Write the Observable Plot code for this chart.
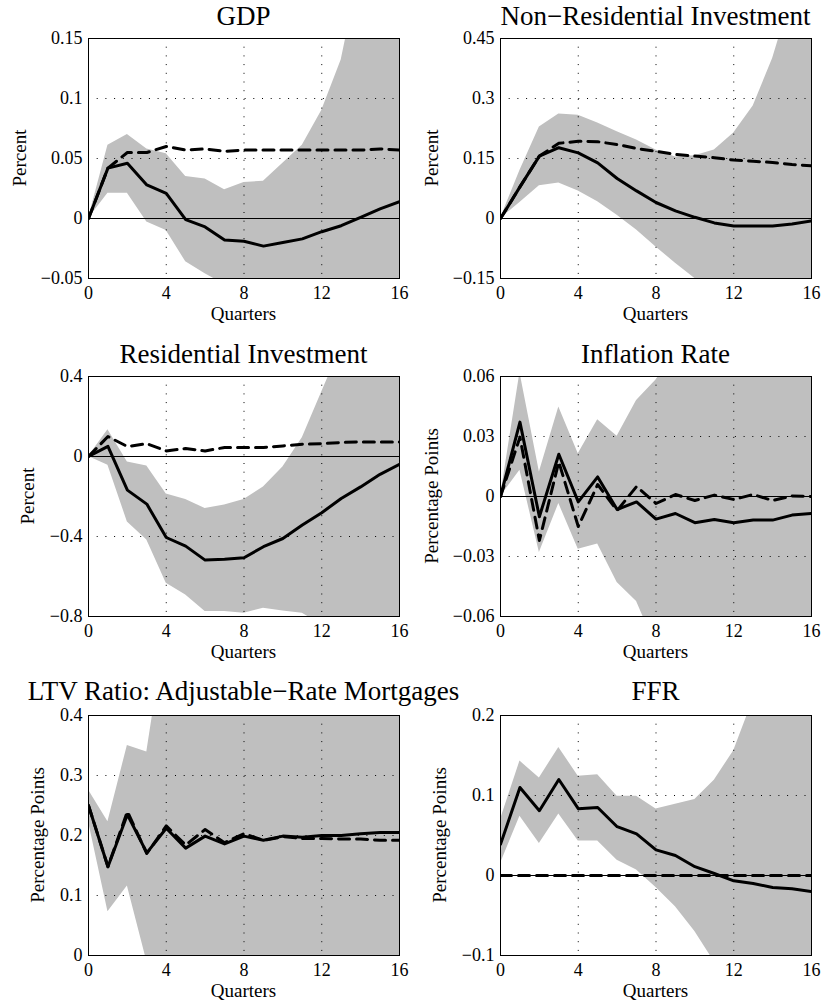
<!DOCTYPE html>
<html>
<head>
<meta charset="utf-8">
<script src="https://cdn.jsdelivr.net/npm/d3@7"></script>
<script src="https://cdn.jsdelivr.net/npm/@observablehq/plot@0.6"></script>
<style>
  body { margin: 0; background: white; }
  #chart { position: relative; width: 825px; height: 1007px; background: white; }
  #chart > svg { position: absolute; }
  #chart svg, #chart svg text { font-family: "Liberation Serif", "Times New Roman", serif !important; }
</style>
</head>
<body>
<div id="chart"></div>
<script>
// quarters after the shock
const quarters = [0, 1, 2, 3, 4, 5, 6, 7, 8, 9, 10, 11, 12, 13, 14, 15, 16]
const xTicks = [0, 4, 8, 12, 16]

// GDP
const gdpSolid  = [0, 0.042, 0.046, 0.028, 0.021, -0.001, -0.007, -0.018, -0.019, -0.023, -0.020, -0.017, -0.011, -0.006, 0.001, 0.008, 0.014]
const gdpDashed = [0, 0.042, 0.055, 0.055, 0.060, 0.057, 0.058, 0.056, 0.057, 0.057, 0.057, 0.057, 0.057, 0.057, 0.057, 0.058, 0.057]
const gdpHi     = [0, 0.061, 0.070, 0.058, 0.054, 0.035, 0.033, 0.024, 0.030, 0.031, 0.046, 0.061, 0.090, 0.132, 0.21, 0.30, 0.40]
const gdpLo     = [0, 0.021, 0.021, -0.003, -0.010, -0.036, -0.046, -0.055, -0.065, -0.075, -0.09, -0.11, -0.14, -0.18, -0.22, -0.27, -0.33]
const gdpTicks  = [-0.05, 0, 0.05, 0.1, 0.15]
const gdpLabels = ["−0.05", "0", "0.05", "0.1", "0.15"]

// Non-residential investment
const nriSolid  = [0, 0.079, 0.156, 0.177, 0.164, 0.139, 0.100, 0.069, 0.040, 0.019, 0.003, -0.011, -0.019, -0.019, -0.019, -0.014, -0.006]
const nriDashed = [0, 0.079, 0.156, 0.188, 0.193, 0.192, 0.185, 0.175, 0.168, 0.160, 0.156, 0.152, 0.146, 0.143, 0.140, 0.135, 0.132]
const nriHi     = [0, 0.12, 0.229, 0.261, 0.258, 0.239, 0.217, 0.196, 0.171, 0.154, 0.157, 0.171, 0.214, 0.281, 0.40, 0.56, 0.75]
const nriLo     = [0, 0.04, 0.082, 0.089, 0.069, 0.042, 0.008, -0.029, -0.071, -0.112, -0.15, -0.19, -0.23, -0.28, -0.34, -0.41, -0.5]
const nriTicks  = [-0.15, 0, 0.15, 0.3, 0.45]
const nriLabels = ["−0.15", "0", "0.15", "0.3", "0.45"]

// Residential investment
const riSolid  = [0, 0.051, -0.168, -0.238, -0.405, -0.448, -0.518, -0.514, -0.506, -0.451, -0.41, -0.343, -0.281, -0.21, -0.152, -0.089, -0.039]
const riDashed = [0, 0.10, 0.05, 0.064, 0.028, 0.040, 0.028, 0.045, 0.045, 0.045, 0.053, 0.061, 0.064, 0.070, 0.073, 0.073, 0.073]
const riHi     = [0, 0.134, -0.027, -0.047, -0.188, -0.215, -0.26, -0.243, -0.215, -0.152, -0.052, 0.094, 0.322, 0.55, 0.8, 1.1, 1.4]
const riLo     = [0, -0.044, -0.327, -0.418, -0.634, -0.692, -0.775, -0.775, -0.784, -0.759, -0.772, -0.784, -0.84, -0.9, -0.95, -1.0, -1.05]
const riTicks  = [-0.8, -0.4, 0, 0.4]
const riLabels = ["−0.8", "−0.4", "0", "0.4"]

// Inflation rate
const infSolid  = [0, 0.0372, -0.0101, 0.0211, -0.0027, 0.0098, -0.0065, -0.0027, -0.0113, -0.0085, -0.0131, -0.0115, -0.0131, -0.0118, -0.0118, -0.0093, -0.0085]
const infDashed = [0, 0.0297, -0.022, 0.0173, -0.015, 0.006, -0.007, 0.005, -0.0035, 0.001, -0.002, 0.0007, -0.0015, 0.001, -0.002, 0.0003, 0]
const infHi     = [0, 0.062, 0.0123, 0.0447, 0.0214, 0.0384, 0.0301, 0.048, 0.0583, 0.072, 0.082, 0.09, 0.097, 0.103, 0.109, 0.115, 0.12]
const infLo     = [0, 0.0131, -0.028, -0.0035, -0.0264, -0.0238, -0.043, -0.0525, -0.075, -0.085, -0.094, -0.1, -0.106, -0.112, -0.118, -0.124, -0.13]
const infTicks  = [-0.06, -0.03, 0, 0.03, 0.06]
const infLabels = ["−0.06", "−0.03", "0", "0.03", "0.06"]

// LTV ratio, adjustable-rate mortgages
const ltvSolid  = [0.25, 0.148, 0.235, 0.171, 0.212, 0.179, 0.199, 0.186, 0.199, 0.192, 0.199, 0.197, 0.2, 0.2, 0.203, 0.205, 0.205]
const ltvDashed = [0.25, 0.148, 0.24, 0.17, 0.216, 0.184, 0.21, 0.188, 0.203, 0.192, 0.198, 0.195, 0.195, 0.194, 0.194, 0.192, 0.192]
const ltvHi     = [0.276, 0.223, 0.35, 0.339, 0.55, 0.6, 0.62, 0.63, 0.64, 0.65, 0.65, 0.66, 0.66, 0.67, 0.67, 0.68, 0.68]
const ltvLo     = [0.223, 0.073, 0.116, -0.01, -0.15, -0.2, -0.22, -0.23, -0.24, -0.25, -0.25, -0.26, -0.26, -0.27, -0.27, -0.28, -0.28]
const ltvTicks  = [0, 0.1, 0.2, 0.3, 0.4]
const ltvLabels = ["0", "0.1", "0.2", "0.3", "0.4"]

// Federal funds rate
const ffrSolid  = [0.039, 0.11, 0.081, 0.12, 0.0835, 0.085, 0.061, 0.052, 0.032, 0.025, 0.011, 0.0025, -0.0066, -0.01, -0.015, -0.0166, -0.02]
const ffrDashed = [0, 0, 0, 0, 0, 0, 0, 0, 0, 0, 0, 0, 0, 0, 0, 0, 0]
const ffrHi     = [0.07, 0.143, 0.122, 0.16, 0.124, 0.126, 0.099, 0.099, 0.083, 0.089, 0.095, 0.119, 0.156, 0.22, 0.30, 0.38, 0.46]
const ffrLo     = [0.015, 0.074, 0.04, 0.077, 0.043, 0.043, 0.019, 0.007, -0.015, -0.039, -0.07, -0.108, -0.15, -0.19, -0.24, -0.29, -0.35]
const ffrTicks  = [-0.1, 0, 0.1, 0.2]
const ffrLabels = ["−0.1", "0", "0.1", "0.2"]

const panels = [
  {title: "GDP", ylabel: "Percent", solid: gdpSolid, dashed: gdpDashed, hi: gdpHi, lo: gdpLo, ticks: gdpTicks, labels: gdpLabels, col: 0, row: 0, lx: 26},
  {title: "Non−Residential Investment", ylabel: "Percent", solid: nriSolid, dashed: nriDashed, hi: nriHi, lo: nriLo, ticks: nriTicks, labels: nriLabels, col: 1, row: 0, lx: 438},
  {title: "Residential Investment", ylabel: "Percent", solid: riSolid, dashed: riDashed, hi: riHi, lo: riLo, ticks: riTicks, labels: riLabels, col: 0, row: 1, lx: 34},
  {title: "Inflation Rate", ylabel: "Percentage Points", solid: infSolid, dashed: infDashed, hi: infHi, lo: infLo, ticks: infTicks, labels: infLabels, col: 1, row: 1, lx: 438},
  {title: "LTV Ratio: Adjustable−Rate Mortgages", ylabel: "Percentage Points", solid: ltvSolid, dashed: ltvDashed, hi: ltvHi, lo: ltvLo, ticks: ltvTicks, labels: ltvLabels, col: 0, row: 2, lx: 44},
  {title: "FFR", ylabel: "Percentage Points", solid: ffrSolid, dashed: ffrDashed, hi: ffrHi, lo: ffrLo, ticks: ffrTicks, labels: ffrLabels, col: 1, row: 2, lx: 446},
]

const rowTop = [0, 338, 677]
const titleBase = [25, 363, 700]
const mTop = 38, mBottom = 52, mLeft = 88, h = 330
const serif = '"Liberation Serif", "Times New Roman", serif'
const dots = "1,7.7"

const chart = d3.select('#chart')
const overlay = chart.append('svg')
  .attr('width', 825).attr('height', 1007)
  .style('left', '0px').style('top', '0px')
  .attr('font-family', serif)

panels.forEach(p => {
  const rows = quarters.map((q, i) => ({q, solid: p.solid[i], dashed: p.dashed[i], lo: p.lo[i], hi: p.hi[i]}))
  const w = p.col === 0 ? 412 : 413
  const mRight = p.col === 0 ? 13 : 14
  const plot = Plot.plot({
    width: w,
    height: h,
    marginTop: mTop,
    marginBottom: mBottom,
    marginLeft: mLeft,
    marginRight: mRight,
    style: {fontFamily: serif, fontSize: "18px", color: "black", background: "transparent", overflow: "visible"},
    x: {domain: [0, 16], ticks: xTicks, tickSize: 0, tickPadding: 8, label: null},
    y: {domain: [p.ticks[0], p.ticks[p.ticks.length - 1]], ticks: p.ticks, tickSize: 0, tickPadding: 6, label: null,
        tickFormat: d => p.labels[p.ticks.indexOf(d)]},
    marks: [
      Plot.areaY(rows, {x: "q", y1: "lo", y2: "hi", fill: "#bfbfbf", clip: true}),
      Plot.ruleX(xTicks, {stroke: "black", strokeWidth: 1, strokeDasharray: dots}),
      Plot.ruleY(p.ticks, {stroke: "black", strokeWidth: 1, strokeDasharray: dots}),
      Plot.ruleY([0], {stroke: "black", strokeWidth: 1.2}),
      Plot.lineY(rows, {x: "q", y: "dashed", stroke: "black", strokeWidth: 3, strokeDasharray: "11,7", clip: true}),
      Plot.lineY(rows, {x: "q", y: "solid", stroke: "black", strokeWidth: 3, clip: true}),
      Plot.frame({stroke: "black", strokeWidth: 1})
    ]
  })
  d3.select(plot).attr('font-family', serif).attr('font-size', 18)
    .style('left', (p.col * 412) + 'px').style('top', rowTop[p.row] + 'px')
  d3.select(plot).selectAll('text').attr('font-family', serif).attr('font-size', 18)
  chart.node().insertBefore(plot, overlay.node())

  const left = p.col * 412 + mLeft
  const right = p.col * 412 + w - mRight
  const top = rowTop[p.row] + mTop
  const bottom = rowTop[p.row] + h - mBottom
  const cx = (left + right) / 2

  overlay.append('text').attr('x', cx).attr('y', titleBase[p.row])
    .attr('text-anchor', 'middle').attr('font-size', 27).text(p.title)
  overlay.append('text').attr('x', cx).attr('y', bottom + 42)
    .attr('text-anchor', 'middle').attr('font-size', 19).text('Quarters')
  overlay.append('text')
    .attr('transform', `translate(${p.lx},${(top + bottom) / 2}) rotate(-90)`)
    .attr('text-anchor', 'middle').attr('font-size', 19).text(p.ylabel)
})
</script>
</body>
</html>
